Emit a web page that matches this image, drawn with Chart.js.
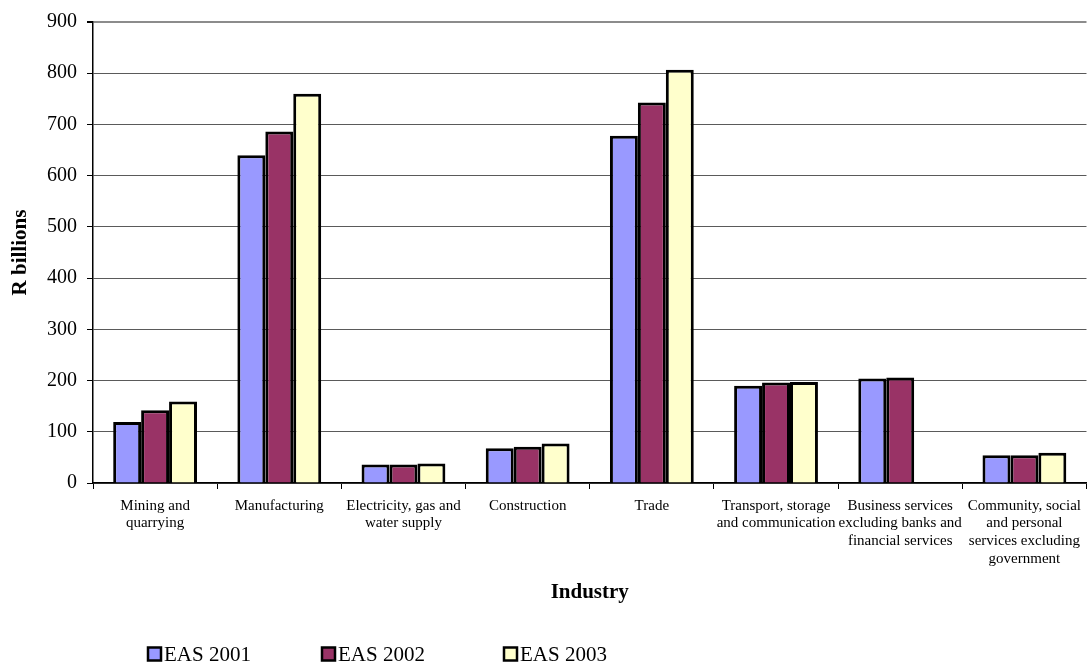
<!DOCTYPE html>
<html>
<head>
<meta charset="utf-8">
<script src="https://cdn.jsdelivr.net/npm/chart.js@4.4.1/dist/chart.umd.min.js"></script>
<style>
  html, body { margin: 0; padding: 0; background: #ffffff; }
  #wrap { width: 1089px; height: 664px; position: relative; }
</style>
</head>
<body>
<div id="wrap"><canvas id="chart" width="1089" height="664"></canvas></div>
<script>
// Industries (multi-line axis labels)
const industries = [
  ["Mining and", "quarrying"],
  "Manufacturing",
  ["Electricity, gas and", "water supply"],
  "Construction",
  "Trade",
  ["Transport, storage", "and communication"],
  ["Business services", "excluding banks and", "financial services"],
  ["Community, social", "and personal", "services excluding", "government"]
];

// Turnover by survey year, R billions
const eas2001 = [119, 640, 36, 68, 678, 190, 204, 54];
const eas2002 = [142, 686, 36, 71, 743, 196, 206, 54];
const eas2003 = [159, 760, 38, 77, 807, 197, null, 59];

const seriesNames = ["EAS 2001", "EAS 2002", "EAS 2003"];
const seriesColors = ["#9999ff", "#993366", "#ffffcc"];

const yTicks = [0, 100, 200, 300, 400, 500, 600, 700, 800, 900];

const serif = "'Liberation Serif', 'Times New Roman', serif";

// Legend drawn as a row of boxed swatches below the axis title
const bottomLegend = {
  id: 'bottomLegend',
  afterDraw(chart) {
    const ctx = chart.ctx;
    const xs = [148, 322, 504];
    const cy = 654;
    ctx.save();
    ctx.font = "21px " + serif;
    ctx.textBaseline = 'middle';
    ctx.textAlign = 'left';
    chart.data.datasets.forEach((ds, i) => {
      const x = xs[i];
      ctx.fillStyle = ds.backgroundColor;
      ctx.fillRect(x, cy - 6.5, 13, 13);
      ctx.strokeStyle = '#000';
      ctx.lineWidth = 2.5;
      ctx.strokeRect(x, cy - 6.5, 13, 13);
      ctx.fillStyle = '#000';
      ctx.fillText(ds.label, x + 16, cy + 1);
    });
    ctx.restore();
  }
};

const datasets = [eas2001, eas2002, eas2003].map((vals, i) => ({
  label: seriesNames[i],
  data: vals,
  backgroundColor: seriesColors[i],
  borderColor: '#000000',
  borderWidth: 3,
  borderSkipped: 'bottom',
  barPercentage: 1.0,
  categoryPercentage: 0.675
}));

new Chart(document.getElementById('chart'), {
  type: 'bar',
  data: { labels: industries, datasets },
  options: {
    responsive: false,
    animation: false,
    layout: { padding: { top: 21, right: 0, bottom: 59, left: 0 } },
    plugins: {
      legend: { display: false },
      tooltip: { enabled: false }
    },
    scales: {
      x: {
        offset: true,
        grid: {
          offset: true,
          drawOnChartArea: false,
          color: '#000000',
          tickLength: 6,
          lineWidth: 1
        },
        border: { color: '#000000', width: 1.5 },
        ticks: {
          color: '#000000',
          font: { family: serif, size: 15, lineHeight: 1.18 },
          padding: 8,
          maxRotation: 0,
          autoSkip: false
        },
        title: {
          display: true,
          text: 'Industry',
          color: '#000000',
          font: { family: serif, size: 21, weight: 'bold' },
          padding: { top: 0, bottom: 0 }
        },
        afterFit(scale) { scale.height = 122; }
      },
      y: {
        min: 0,
        max: 900,
        afterBuildTicks(scale) { scale.ticks = yTicks.map(v => ({ value: v })); },
        grid: {
          color(ctx) { return ctx.tick && ctx.tick.value === 900 ? '#8c8c8c' : '#5a5a5a'; },
          lineWidth(ctx) { return ctx.tick && ctx.tick.value === 900 ? 2 : 1; },
          tickColor: '#000000',
          tickLength: 6
        },
        border: { color: '#000000', width: 1.5 },
        ticks: {
          color: '#000000',
          font: { family: serif, size: 20 },
          padding: 10
        },
        title: {
          display: true,
          text: 'R billions',
          color: '#000000',
          font: { family: serif, size: 21, weight: 'bold' },
          padding: { top: 8, bottom: 0 }
        },
        afterFit(scale) { scale.width = 93; }
      }
    }
  },
  plugins: [bottomLegend]
});
</script>
</body>
</html>
